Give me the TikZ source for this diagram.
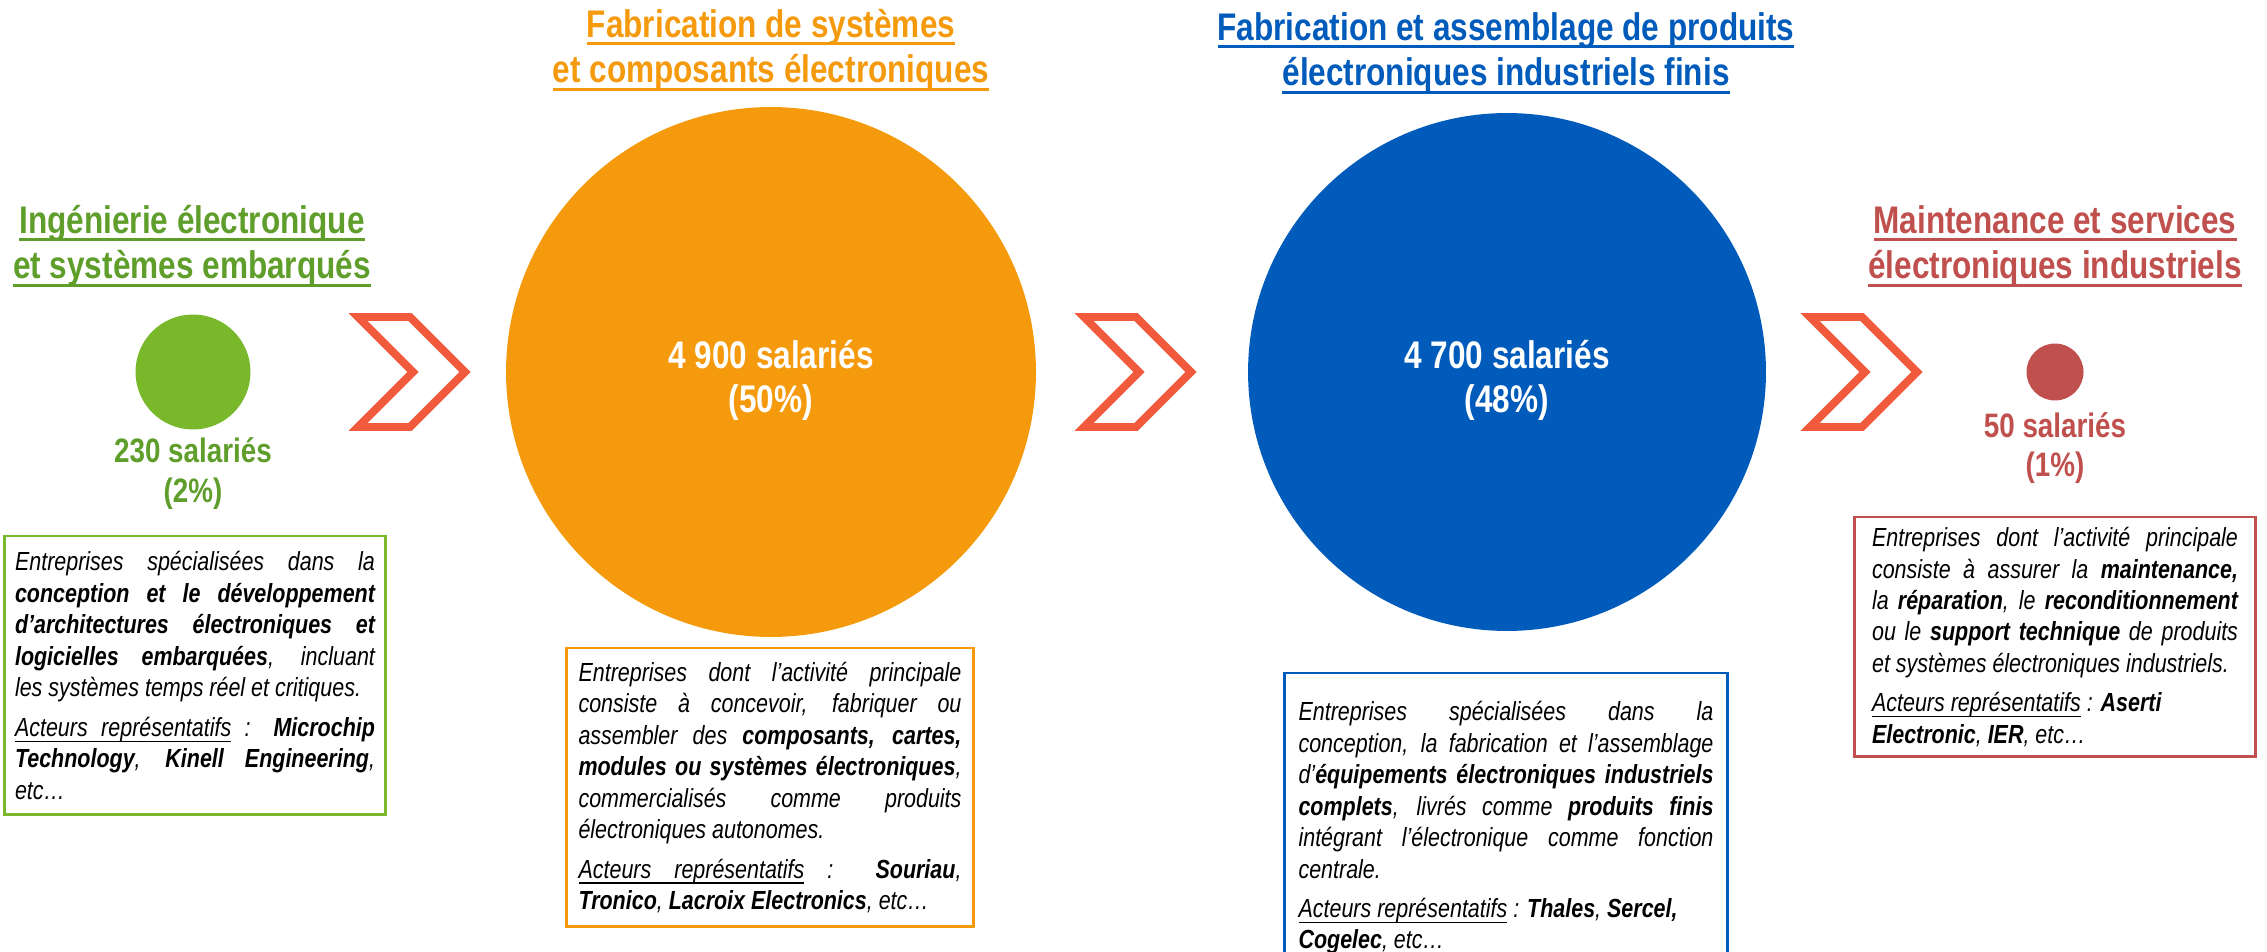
\documentclass[tikz,border=0pt]{standalone}
\usepackage{fontspec}
\setmainfont{Liberation Sans}[FakeStretch=0.82]
\usepackage{tikz}

\definecolor{vert}{HTML}{78B82A}
\definecolor{vertf}{HTML}{609E2C}
\definecolor{orangef}{HTML}{F59A0C}
\definecolor{bleu}{HTML}{005BBB}
\definecolor{rouge}{HTML}{C0504D}
\definecolor{fleche}{HTML}{F15A3C}

\newsavebox{\boiteSoul}
\newcommand{\souligne}[2][1.7pt]{\leavevmode\sbox{\boiteSoul}{#2}\rlap{\rule[-0.21em]{\wd\boiteSoul}{#1}}\usebox{\boiteSoul}}
\newcommand{\acteurs}{\souligne[0.6pt]{Acteurs}\leaders\vrule height -0.17em depth 0.21em\hskip\fontdimen2\font plus\fontdimen3\font minus\fontdimen4\font\souligne[0.6pt]{représentatifs}}

\begin{document}
\begin{tikzpicture}[x=0.02cm,y=-0.02cm,
    titre/.style={font=\fontsize{21.9}{26.1}\selectfont\bfseries,align=center,anchor=base},
    bulle/.style={circle,inner sep=0pt,draw=none},
    chiffre/.style={font=\fontsize{21.9}{25.5}\selectfont\bfseries,align=center,anchor=base,text=white},
    petit/.style={font=\fontsize{19.3}{22.7}\selectfont\bfseries,align=center,anchor=base},
    texte/.style={draw,line width=1.7pt,anchor=north,outer sep=0pt,inner ysep=0pt,align=justify,
      font={\fontsize{14.9}{17.9}\selectfont\itshape},
      execute at begin node={\setlength{\parskip}{4.5pt}\hyphenpenalty=10000\exhyphenpenalty=10000}},
    chevron/.style={draw=fleche,line width=4.5pt}]
    \useasboundingbox (0,0) rectangle (2267,952);

    \node[titre,text=vertf](tIng)at(192,279){\souligne{Ingénierie électronique}\\\souligne{et systèmes embarqués}};
    \node[titre,text=orangef](tFab)at(771,83){\souligne{Fabrication de systèmes}\\\souligne{et composants électroniques}};
    \node[titre,text=bleu](tAss)at(1506,86){\souligne{Fabrication et assemblage de produits}\\\souligne{électroniques industriels finis}};
    \node[titre,text=rouge](tMai)at(2055,279){\souligne{Maintenance et services}\\\souligne{électroniques industriels}};

    \node[bulle,fill=vert,minimum size=2.3cm](cIng)at(193,372){};
    \node[bulle,fill=orangef,minimum size=10.6cm](cFab)at(771,372){};
    \node[bulle,fill=bleu,minimum size=10.36cm](cAss)at(1507,372){};
    \node[bulle,fill=rouge,minimum size=1.14cm](cMai)at(2055,372){};

    \node[chiffre](nFab)at(771,413){4 900 salariés\\(50\%)};
    \node[chiffre](nAss)at(1507,413){4 700 salariés\\(48\%)};
    \node[petit,text=vertf](nIng)at(193,502){230 salariés\\(2\%)};
    \node[petit,text=rouge](nMai)at(2055,477){50 salariés\\(1\%)};

    \foreach \x in {358,1084,1810}
      \draw[chevron] (\x,317) -- ++(52,0) -- ++(55,55) -- ++(-55,55) -- ++(-52,0) -- ++(55,-55) -- cycle;

    \node[texte,draw=vert,text width=7.2cm,inner xsep=0.21cm,minimum height=5.58cm](bIng)at(195,536){Entreprises spécialisées dans la\linebreak \textbf{conception et le développement\linebreak d’architectures électroniques et\linebreak logicielles embarquées}, incluant\linebreak les systèmes temps réel et critiques.\par \acteurs{} : \textbf{Microchip\linebreak Technology}, \textbf{Kinell Engineering},\linebreak etc…};
    \node[texte,draw=orangef,text width=7.66cm,inner xsep=0.24cm,minimum height=5.58cm](bFab)at(770,648){Entreprises dont l’activité principale\linebreak consiste à concevoir, fabriquer ou\linebreak assembler des \textbf{composants, cartes,\linebreak modules ou systèmes électroniques},\linebreak commercialisés comme produits\linebreak électroniques autonomes.\par \acteurs{} : \textbf{Souriau},\linebreak \textbf{Tronico}, \textbf{Lacroix Electronics}, etc…};
    \node[texte,draw=bleu,text width=8.3cm,inner xsep=0.29cm,minimum height=6.2cm](bAss)at(1506,673){Entreprises spécialisées dans la\linebreak conception, la fabrication et l’assemblage\linebreak d’\textbf{équipements électroniques industriels\linebreak complets}, livrés comme \textbf{produits finis}\linebreak intégrant l’électronique comme fonction\linebreak centrale.\par \acteurs{} : \textbf{Thales}, \textbf{Sercel,}\newline \textbf{Cogelec}, etc…};
    \node[texte,draw=rouge,text width=7.32cm,inner xsep=0.35cm,minimum height=4.8cm](bMai)at(2055,517){Entreprises dont l’activité principale\linebreak consiste à assurer la \textbf{maintenance,}\linebreak la \textbf{réparation}, le \textbf{reconditionnement}\linebreak ou le \textbf{support technique} de produits\linebreak et systèmes électroniques industriels.\par \acteurs{} : \textbf{Aserti}\newline \textbf{Electronic}, \textbf{IER}, etc…};
\end{tikzpicture}
\end{document}
